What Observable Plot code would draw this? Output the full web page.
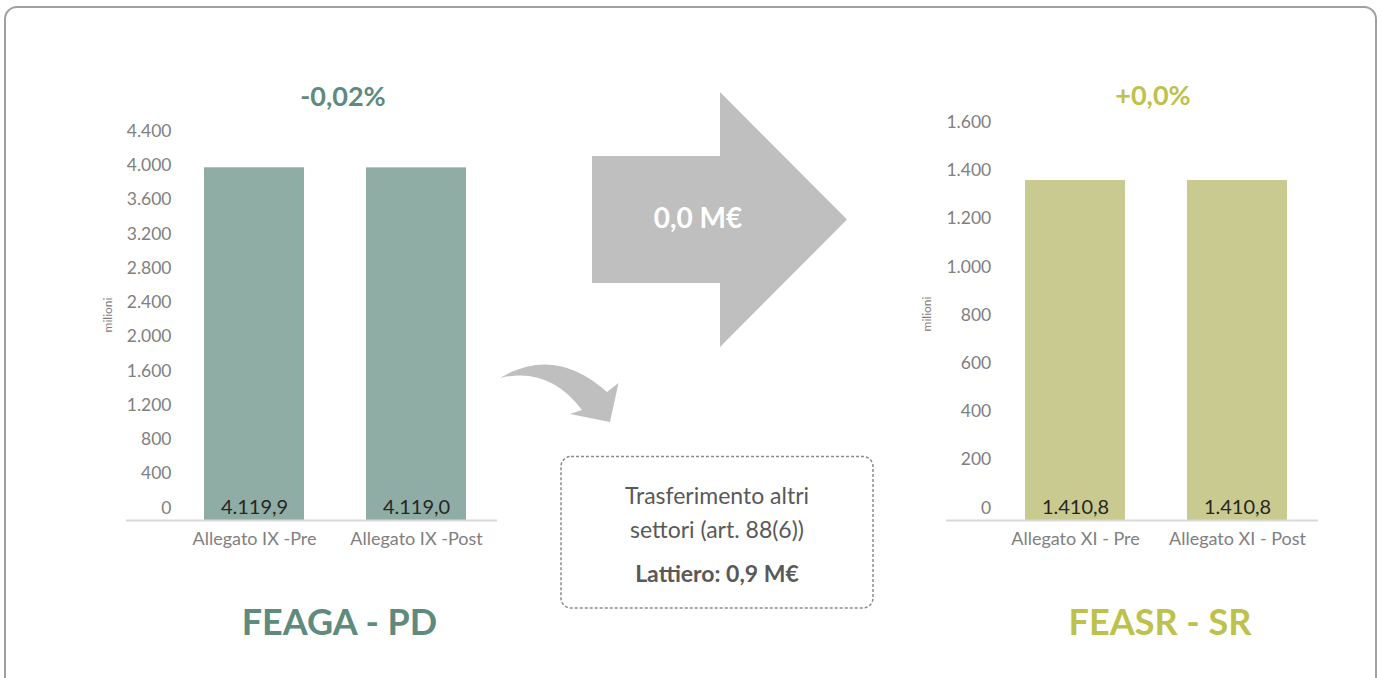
<!DOCTYPE html>
<html>
<head>
<meta charset="utf-8">
<script src="https://cdn.jsdelivr.net/npm/d3@7"></script>
<script src="https://cdn.jsdelivr.net/npm/@observablehq/plot@0.6"></script>
<style>
  html, body { margin: 0; padding: 0; background: #ffffff; }
  #root { position: relative; width: 1382px; height: 678px; overflow: hidden; font-family: Lato, "Open Sans", sans-serif; }
  #root > svg, #root > div { position: absolute; top: 0; }
</style>
</head>
<body>
<div id="root"></div>
<script>
// ---- data ----
const feagaCategories = ["Allegato IX -Pre", "Allegato IX -Post"];
const feagaValues = [4119.9, 4119.0];
const feagaTicks = [0, 400, 800, 1200, 1600, 2000, 2400, 2800, 3200, 3600, 4000, 4400];
const feagaChange = "-0,02%";
const feagaTitle = "FEAGA - PD";

const feasrCategories = ["Allegato XI - Pre", "Allegato XI - Post"];
const feasrValues = [1410.8, 1410.8];
const feasrTicks = [0, 200, 400, 600, 800, 1000, 1200, 1400, 1600];
const feasrChange = "+0,0%";
const feasrTitle = "FEASR - SR";

const unitLabel = "milioni";
const transferLabel = "0,0 M€";
const boxLines = ["Trasferimento altri", "settori (art. 88(6))"];
const boxBold = "Lattiero: 0,9 M€";

// ---- style ----
const colFeagaBar = "#8fada4", colFeagaText = "#5e8b7d";
const colFeasrBar = "#c9ca8f", colFeasrText = "#bcc24b";
const colTick = "#808080", colValue = "#262626", colAxis = "#d9d9d9", colArrow = "#bfbfbf";

const itLocale = d3.formatLocale({decimal: ",", thousands: ".", grouping: [3], currency: ["", "€"]});
const fmtTick = itLocale.format(",.0f");
const fmtVal = itLocale.format(",.1f");

const root = document.getElementById("root");
const NS = "http://www.w3.org/2000/svg";

// ---- decorations (frame, arrows, box, texts) ----
const deco = document.createElementNS(NS, "svg");
deco.setAttribute("width", 1382);
deco.setAttribute("height", 678);
deco.style.left = "0px";
function el(tag, attrs, text) {
  const e = document.createElementNS(NS, tag);
  for (const k in attrs) e.setAttribute(k, attrs[k]);
  if (text != null) e.textContent = text;
  deco.appendChild(e);
  return e;
}
el("rect", {x: 5, y: 7, width: 1371, height: 700, rx: 12, fill: "none", stroke: "#a0a0a0", "stroke-width": 2});
el("polygon", {points: "592,156 720,156 720,92 847,219.5 720,347 720,283 592,283", fill: colArrow});
el("path", {d: "M500,378 Q555,345 607,392 L618.5,383 L610,422 L570,414 L582,410 Q549,366 500,378 Z", fill: colArrow});
el("rect", {x: 561, y: 456.5, width: 312, height: 151.5, rx: 10, fill: "none", stroke: "#8c8c8c", "stroke-width": 1.5, "stroke-dasharray": "3,2"});
const T = (x, y, s, size, color, weight, extra) =>
  el("text", Object.assign({x, y, dy: "0.36em", "text-anchor": "middle", "font-family": "Lato, sans-serif", "font-size": size, fill: color, "font-weight": weight || "normal"}, extra || {}), s);
T(343, 96, feagaChange, 27, colFeagaText, "bold");
T(1153, 95, feasrChange, 27, colFeasrText, "bold");
T(339.5, 622, feagaTitle, 36, colFeagaText, "bold");
T(1160, 622, feasrTitle, 36, colFeasrText, "bold");
T(698, 218, transferLabel, 28, "#ffffff", "bold");
T(717, 496, boxLines[0], 23, "#595959");
T(717, 530, boxLines[1], 23, "#595959");
T(717, 574, boxBold, 23, "#595959", "bold");
el("text", {transform: "translate(108.5,315) rotate(-90)", dy: "0.32em", "text-anchor": "middle", "font-family": "Lato, sans-serif", "font-size": 12, fill: colTick}, unitLabel);
el("text", {transform: "translate(927.5,314) rotate(-90)", dy: "0.32em", "text-anchor": "middle", "font-family": "Lato, sans-serif", "font-size": 12, fill: colTick}, unitLabel);
root.appendChild(deco);

// ---- bar chart builder ----
function barChart({cats, vals, ticks, yMax, width, marginLeft, marginRight, marginTop, labelDx, fill}) {
  const data = cats.map((c, i) => ({cat: c, val: vals[i]}));
  return Plot.plot({
    width, height: 678,
    marginLeft, marginRight, marginTop, marginBottom: 158,
    style: {background: "transparent", fontFamily: "Lato, sans-serif", overflow: "visible"},
    x: {domain: cats, type: "band", paddingInner: 0.3827, paddingOuter: 0.3364, align: 0.7156, label: null},
    y: {domain: [0, yMax], label: null},
    marks: [
      Plot.barY(data, {x: "cat", y: "val", fill}),
      Plot.ruleY([0], {stroke: colAxis, strokeWidth: 2}),
      Plot.axisY(ticks, {tickSize: 0, tickPadding: 0, dx: labelDx, dy: -12.5, tickFormat: fmtTick, fontSize: 17.5, fill: colTick, textAnchor: "end", label: null}),
      Plot.axisX({tickSize: 0, tickPadding: 11.5, fontSize: 18, fill: colTick, label: null}),
      Plot.text(data, {x: "cat", y: 0, text: d => fmtVal(d.val), dy: -12.5, fontSize: 20, fill: colValue})
    ]
  });
}

const left = barChart({
  cats: feagaCategories, vals: feagaValues, ticks: feagaTicks, yMax: 4400,
  width: 700, marginLeft: 126, marginRight: 203, marginTop: 143.3, labelDx: 45, fill: colFeagaBar
});
left.style.position = "absolute"; left.style.left = "0px"; left.style.top = "0px";
root.appendChild(left);

const right = barChart({
  cats: feasrCategories, vals: feasrValues, ticks: feasrTicks, yMax: 1600,
  width: 682, marginLeft: 246, marginRight: 64, marginTop: 134.4, labelDx: 44.7, fill: colFeasrBar
});
right.style.position = "absolute"; right.style.left = "700px"; right.style.top = "0px";
root.appendChild(right);
</script>
</body>
</html>
